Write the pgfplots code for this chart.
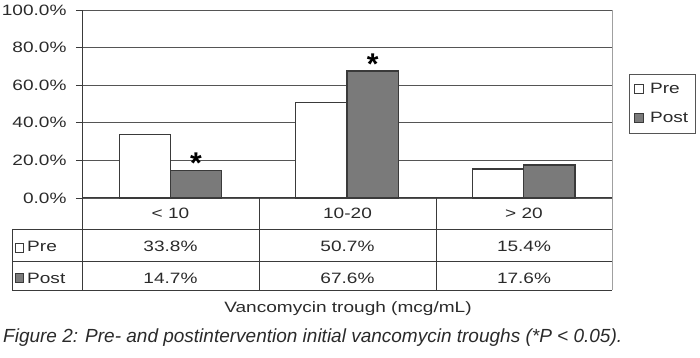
\documentclass[border=0pt]{standalone}
\usepackage{pgfplots}
\pgfplotsset{compat=1.18}
\usepackage{pgfplotstable}
\usepackage{fontspec}
\setmainfont{Liberation Sans}
\newfontfamily\chartfont[FakeStretch=1.27]{Liberation Sans}
\definecolor{txt}{HTML}{2a2a2a}
\definecolor{edge}{HTML}{3a3a3a}
\definecolor{gridc}{HTML}{555555}
\definecolor{postfill}{HTML}{7a7a7a}
\definecolor{rborder}{HTML}{a0a0a0}
\newcommand{\cf}{\chartfont\fontsize{15}{18}\selectfont}

\pgfplotstableread{
x pre post
0 33.8 14.7
1 50.7 67.6
2 15.4 17.6
}\data

\begin{document}
\begin{tikzpicture}[x=1pt,y=1pt]
\path[use as bounding box] (0,0) rectangle (700,358);
\begin{axis}[at={(82pt,160pt)}, anchor=south west, scale only axis,
  width=530pt, height=188pt,
  xmin=-0.5, xmax=2.5, ymin=0, ymax=100,
  ytick={0,20,...,100}, xtick=\empty,
  axis lines=left, axis line style={-, draw=edge, line width=1pt},
  ymajorgrids, major grid style={draw=gridc, line width=0.9pt},
  tick align=outside, major tick length=6pt, tick style={draw=edge, line width=0.9pt},
  ybar, bar width=0.29,
  /pgf/number format/assume math mode=true,
  yticklabel={\pgfmathprintnumber[fixed,fixed zerofill,precision=1]{\tick}\%},
  yticklabel style={font=\cf, text=txt, xshift=-6pt},
  clip=false,
  legend style={at={(rel axis cs:1.032,0.66)}, anchor=north west,
    draw=gridc, line width=0.8pt, font=\cf, text=txt,
    inner xsep=5pt, inner ysep=7pt, row sep=13pt,
    /tikz/every odd column/.append style={column sep=4pt},
    cells={anchor=west}},
]
\addplot[fill=white, draw=edge, line width=1.2pt, bar shift=-0.145,
  legend image code/.code={\draw[fill=white, draw=edge, line width=0.8pt] (0pt,-4.5pt) rectangle (9pt,4.5pt);}]
  table[x=x,y=pre]{\data};
\addplot[fill=postfill, draw=edge, line width=1.2pt, bar shift=0.145,
  legend image code/.code={\draw[fill=postfill, draw=edge, line width=0.8pt] (0pt,-4.5pt) rectangle (9pt,4.5pt);}]
  table[x=x,y=post]{\data};
\legend{Pre,Post}
\draw[rborder, line width=0.9pt] (rel axis cs:1,0) -- (rel axis cs:1,1);
\node[font=\fontsize{30}{30}\bfseries\selectfont, text=black, yshift=7pt] at (axis cs:0.145,14.7) {*};
\node[font=\fontsize{30}{30}\bfseries\selectfont, text=black, yshift=7pt] at (axis cs:1.145,67.6) {*};
\end{axis}
% data table under the chart
\begin{scope}[draw=edge, line width=0.9pt]
\draw (12,129) -- (612,129);
\draw (12,97) -- (612,97);
\draw (12,68) -- (612,68);
\draw (12,129) -- (12,68);
\draw (82,160) -- (82,68);
\draw (259,160) -- (259,68);
\draw (436,160) -- (436,68);
\draw[rborder] (612,160) -- (612,68);
\end{scope}
\begin{scope}[every node/.style={font=\cf, text=txt, anchor=base, inner sep=0pt}]
\node at (170.5,139) {< 10};
\node at (347.5,139) {10-20};
\node at (524,139) {> 20};
\node at (170.5,106) {33.8\%};
\node at (347.5,106) {50.7\%};
\node at (524,106) {15.4\%};
\node at (170.5,74) {14.7\%};
\node at (347.5,74) {67.6\%};
\node at (524,74) {17.6\%};
\node[anchor=base west] at (27,106) {Pre};
\node[anchor=base west] at (27,74) {Post};
\node at (348,45) {Vancomycin trough (mcg/mL)};
\end{scope}
\draw[fill=white, draw=edge, line width=0.8pt] (15,106) rectangle (23,115);
\draw[fill=postfill, draw=edge, line width=0.8pt] (15,76) rectangle (23,85);
\node[anchor=base west, inner sep=0pt, text=txt, font=\fontsize{19}{22}\itshape\selectfont] at (3,15)
  {Figure 2: Pre- and postintervention initial vancomycin troughs (*P < 0.05).};
\end{tikzpicture}
\end{document}
